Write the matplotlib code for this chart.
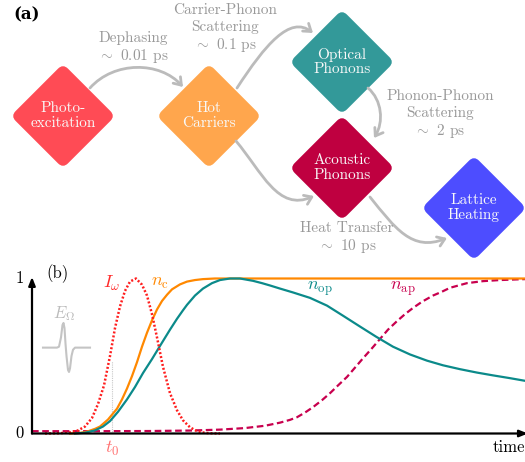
import matplotlib
matplotlib.use('Agg')
import matplotlib.pyplot as plt
import matplotlib.transforms as mtransforms
from matplotlib.patches import FancyBboxPatch, FancyArrowPatch
from matplotlib.path import Path

plt.rcParams['font.family'] = 'cmr10'
plt.rcParams['mathtext.fontset'] = 'cm'
plt.rcParams['axes.formatter.use_mathtext'] = True

# ---- panel (a): relaxation scheme ----
node_labels = ['Photo-\nexcitation', 'Hot\nCarriers', 'Optical\nPhonons',
               'Acoustic\nPhonons', 'Lattice\nHeating']
node_colors = ['#FF4B55', '#FFA64D', '#339999', '#BF0040', '#4D4DFF']
step_labels = ['Dephasing\n$\\sim$ 0.01 ps',
               'Carrier-Phonon\nScattering\n$\\sim$ 0.1 ps',
               'Phonon-Phonon\nScattering\n$\\sim$ 2 ps',
               'Heat Transfer\n$\\sim$ 10 ps']

# ---- panel (b): populations vs time ----
t_pulse = [13, 28, 38, 46, 53, 60, 66, 72, 78, 83, 88, 93, 98, 104, 110, 115, 120,
           125, 131, 138, 145, 151, 158, 165, 173, 180, 188]
I_pulse = [0, 0.002, 0.007, 0.02, 0.045, 0.1, 0.19, 0.31, 0.5, 0.68, 0.82, 0.92,
           0.98, 1.0, 0.96, 0.89, 0.77, 0.62, 0.43, 0.26, 0.15, 0.085, 0.04, 0.015,
           0.004, 0.001, 0]

t_c = [38, 48, 55, 63, 68, 76, 85, 90, 95, 100, 105, 110, 115, 120, 125, 130, 135,
       140, 148, 155, 163, 171, 183, 493]
n_c = [0, 0.004, 0.012, 0.03, 0.045, 0.09, 0.16, 0.22, 0.29, 0.37, 0.46, 0.56, 0.65,
       0.73, 0.8, 0.855, 0.895, 0.93, 0.962, 0.98, 0.99, 0.996, 1.0, 1.0]

t_op = [43, 53, 63, 71, 78, 86, 95, 103, 111, 120, 128, 138, 145, 151, 155, 163, 171,
        180, 188, 198, 208, 221, 230, 238, 248, 261, 278, 295, 311, 328, 344, 361,
        378, 395, 411, 428, 445, 461, 478, 493]
n_op = [0, 0.005, 0.02, 0.045, 0.08, 0.14, 0.22, 0.30, 0.39, 0.48, 0.565, 0.67,
        0.74, 0.795, 0.83, 0.89, 0.935, 0.97, 0.99, 1.0, 1.0, 0.985, 0.97, 0.955,
        0.935, 0.91, 0.875, 0.825, 0.76, 0.69, 0.625, 0.56, 0.51, 0.47, 0.44, 0.415,
        0.393, 0.375, 0.357, 0.34]

t_ap = [0, 68, 118, 158, 188, 213, 233, 248, 258, 265, 273, 281, 290, 298, 306, 315,
        323, 331, 340, 348, 356, 365, 373, 381, 390, 401, 410, 418, 435, 451, 468, 493]
n_ap = [0.015, 0.015, 0.016, 0.019, 0.025, 0.035, 0.05, 0.07, 0.088, 0.105, 0.135,
        0.17, 0.215, 0.26, 0.31, 0.365, 0.425, 0.485, 0.55, 0.61, 0.67, 0.725, 0.77,
        0.81, 0.85, 0.89, 0.915, 0.94, 0.97, 0.983, 0.99, 0.996]

# sketch of the field transient
t_field = [11, 25, 27, 29, 30.5, 31.5, 32.5, 33.5, 34.5, 36, 37, 38, 39.5, 41, 43, 58]
E_field = [0.554, 0.554, 0.56, 0.62, 0.70, 0.713, 0.68, 0.58, 0.5, 0.41, 0.397, 0.42,
           0.5, 0.54, 0.554, 0.554]

t0 = 80
I_t0 = 0.47

W, H = 525, 462
fig = plt.figure(figsize=(W / 100, H / 100), dpi=100)

ax = fig.add_axes([0, 0, 1, 1])
ax.set_xlim(0, W)
ax.set_ylim(H, 0)
ax.axis('off')

centers = [(63, 116), (209, 116), (342, 62), (342, 168), (474, 208)]
side = 74
for (cx, cy), col, lab in zip(centers, node_colors, node_labels):
    box = FancyBboxPatch((cx - side / 2, cy - side / 2), side, side,
                         boxstyle='round,pad=0,rounding_size=7', fc=col, ec='none')
    box.set_transform(mtransforms.Affine2D().rotate_deg_around(cx, cy, 45) + ax.transData)
    ax.add_patch(box)
    ax.text(cx, cy, lab, color='#F8F8F8', fontsize=11, ha='center', va='center',
            linespacing=1.1)

arrow_paths = [
    [(90, 88), (114, 61), (160, 61), (183, 87)],
    [(237, 88), (265, 45), (290, 15), (313, 33)],
    [(368, 88), (382, 100), (384, 122), (374, 138)],
    [(236, 141), (262, 172), (278, 212), (314, 196)],
    [(370, 197), (395, 228), (412, 252), (447, 238)],
]
codes = [Path.MOVETO, Path.CURVE4, Path.CURVE4, Path.CURVE4]
for verts in arrow_paths:
    arr = FancyArrowPatch(path=Path(verts, codes),
                          arrowstyle='->,head_length=0.5,head_width=0.35',
                          mutation_scale=10, color='#BBBBBB', lw=2)
    ax.add_patch(arr)

label_pos = [(133, 48), (225, 29), (440, 115), (347, 238)]
for (x, y), lab in zip(label_pos, step_labels):
    ax.text(x, y, lab, color='#999999', fontsize=11, ha='center', va='center',
            linespacing=1.2)

ax.text(27, 15, '(a)', fontsize=12, family='DejaVu Serif', weight='bold',
        ha='center', va='center')

# ---- panel (b) ----
bx = fig.add_axes([32 / W, (H - 433.5) / H, (W - 32) / W, 155 / H])
bx.set_facecolor('none')
bx.set_xlim(0, W - 32)
bx.set_ylim(0, 1)
for s in bx.spines.values():
    s.set_visible(False)
bx.set_xticks([])
bx.set_yticks([])

bx.annotate('', xy=(1.006, 0), xytext=(0, 0), xycoords='axes fraction',
            arrowprops=dict(arrowstyle='-|>,head_length=0.5,head_width=0.2',
                            color='black', lw=1.6, shrinkA=0, shrinkB=0))
bx.annotate('', xy=(0, 1.01), xytext=(0, 0), xycoords='axes fraction',
            arrowprops=dict(arrowstyle='-|>,head_length=0.5,head_width=0.2',
                            color='black', lw=1.6, shrinkA=0, shrinkB=0))

bx.plot([t0, t0], [0, I_t0], color='#C8C8C8', lw=0.8, ls=(0, (1, 1)))
bx.plot(t_ap, n_ap, color='#C8004E', lw=1.6, ls=(0, (3, 1.6)), clip_on=False)
bx.plot(t_c, n_c, color='#FF8800', lw=1.6, clip_on=False)
bx.plot(t_op, n_op, color='#0B8A8A', lw=1.6, clip_on=False)
bx.plot(t_pulse, I_pulse, color='#FF1E1E', lw=1.8, ls=(0, (0.8, 0.8)), clip_on=False)
bx.plot(t_field, E_field, color='#C4C4C4', lw=1.5)

bx.text(32, 0.776, r'$E_\Omega$', color='#BBBBBB', fontsize=12, ha='center', va='center')
bx.text(80, 0.97, r'$I_\omega$', color='#FF2A2A', fontsize=13, ha='center', va='center')
bx.text(128, 0.97, r'$n_\mathrm{c}$', color='#FF8800', fontsize=13, ha='center', va='center')
bx.text(288, 0.935, r'$n_\mathrm{op}$', color='#0B8A8A', fontsize=13, ha='center', va='center')
bx.text(371, 0.935, r'$n_\mathrm{ap}$', color='#C8004E', fontsize=13, ha='center', va='center')
bx.text(t0, -0.095, r'$t_0$', color='#FF7070', fontsize=13, ha='center', va='center')
bx.text(26, 1.03, '(b)', fontsize=12, ha='center', va='center')
bx.text(-12, 1.0, '1', fontsize=12, ha='center', va='center')
bx.text(-12, 0.0, '0', fontsize=12, ha='center', va='center')
bx.text(493, -0.09, 'time', fontsize=12, ha='right', va='center')

fig.savefig('out.png', dpi=100)
